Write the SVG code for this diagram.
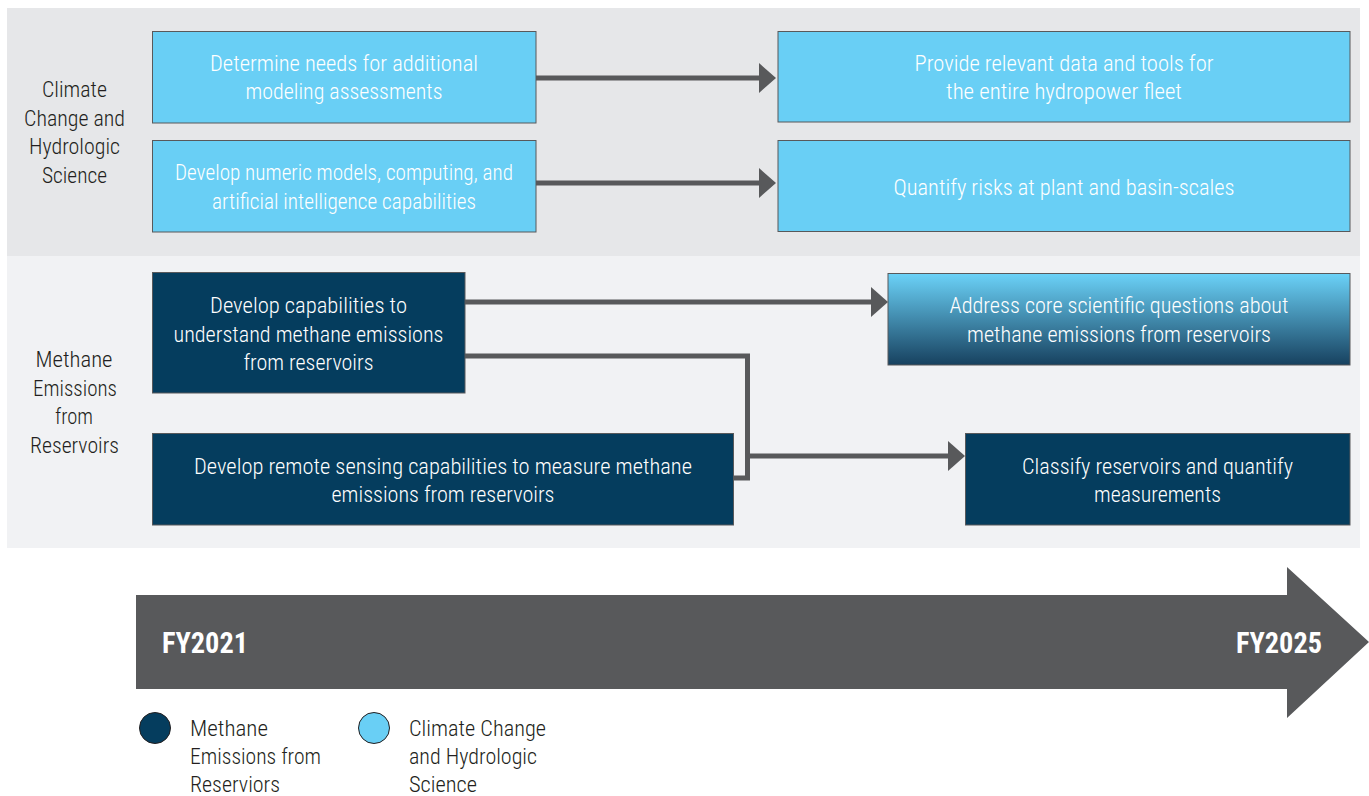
<svg xmlns="http://www.w3.org/2000/svg" width="1369" height="796" viewBox="0 0 1369 796">
<style>
.t{font-family:"Liberation Sans Narrow","Roboto Condensed","DejaVu Sans Condensed",Roboto,sans-serif;font-size:22px;font-weight:300;text-anchor:middle;}
.w{fill:#ffffff;}
.k{fill:#231f20;}
.l{text-anchor:start;}
.lb{fill:#69cff5;stroke:#58595b;stroke-width:1;}
.db{fill:#053d5e;stroke:#58595b;stroke-width:1;}
.fy{font-family:"Liberation Sans Narrow","Roboto Condensed","Liberation Sans",sans-serif;font-size:29px;font-weight:bold;fill:#ffffff;}
.cn{fill:none;stroke:#58595b;stroke-width:5;}
</style>
<defs>
<linearGradient id="g1" x1="0" y1="0" x2="0" y2="1">
<stop offset="0" stop-color="#6bd2f8"/>
<stop offset="1" stop-color="#17415f"/>
</linearGradient>
<marker id="ah" markerUnits="userSpaceOnUse" markerWidth="18" markerHeight="30" viewBox="0 0 18 30" refX="1" refY="15" orient="auto">
<path d="M0,0 L17,15 L0,30 z" fill="#58595b"/>
</marker>
</defs>
<rect width="1369" height="796" fill="#ffffff"/>
<rect id="band-climate" x="7" y="8" width="1353" height="248" fill="#e6e7e9"/>
<rect id="band-methane" x="7" y="256" width="1353" height="292" fill="#f1f2f4"/>

<g id="label-climate">
<text class="t k" x="74.5" y="97" textLength="65" lengthAdjust="spacingAndGlyphs">Climate</text>
<text class="t k" x="74.5" y="126" textLength="101" lengthAdjust="spacingAndGlyphs">Change and</text>
<text class="t k" x="74.5" y="154" textLength="91" lengthAdjust="spacingAndGlyphs">Hydrologic</text>
<text class="t k" x="74.5" y="183" textLength="65" lengthAdjust="spacingAndGlyphs">Science</text>
</g>
<g id="label-methane">
<text class="t k" x="74" y="367" textLength="77" lengthAdjust="spacingAndGlyphs">Methane</text>
<text class="t k" x="75" y="396" textLength="84" lengthAdjust="spacingAndGlyphs">Emissions</text>
<text class="t k" x="74" y="424" textLength="38" lengthAdjust="spacingAndGlyphs">from</text>
<text class="t k" x="74.5" y="453" textLength="89" lengthAdjust="spacingAndGlyphs">Reservoirs</text>
</g>

<g id="connectors">
<line class="cn" x1="536" y1="78" x2="760" y2="78" marker-end="url(#ah)"/>
<line class="cn" x1="536" y1="183" x2="760" y2="183" marker-end="url(#ah)"/>
<line class="cn" x1="465" y1="302" x2="872" y2="302" marker-end="url(#ah)"/>
<polyline class="cn" points="465,356 747.5,356 747.5,478 734,478"/>
<line class="cn" x1="747.5" y1="456" x2="949" y2="456" marker-end="url(#ah)"/>
</g>

<g id="n-determine">
<rect class="lb" x="152.5" y="31.5" width="383.5" height="91.5"/>
<text class="t w" x="344" y="71" textLength="268" lengthAdjust="spacingAndGlyphs">Determine needs for additional</text>
<text class="t w" x="344" y="99" textLength="197" lengthAdjust="spacingAndGlyphs">modeling assessments</text>
</g>
<g id="n-develop-numeric">
<rect class="lb" x="152.5" y="140.5" width="383.5" height="91.5"/>
<text class="t w" x="344" y="180" textLength="338" lengthAdjust="spacingAndGlyphs">Develop numeric models, computing, and</text>
<text class="t w" x="344" y="209" textLength="264" lengthAdjust="spacingAndGlyphs">artificial intelligence capabilities</text>
</g>
<g id="n-provide">
<rect class="lb" x="778" y="31.5" width="572" height="90.5"/>
<text class="t w" x="1064" y="71" textLength="299" lengthAdjust="spacingAndGlyphs">Provide relevant data and tools for</text>
<text class="t w" x="1064" y="99" textLength="236" lengthAdjust="spacingAndGlyphs">the entire hydropower fleet</text>
</g>
<g id="n-quantify">
<rect class="lb" x="778" y="140.5" width="572" height="91"/>
<text class="t w" x="1064" y="195" textLength="341" lengthAdjust="spacingAndGlyphs">Quantify risks at plant and basin-scales</text>
</g>
<g id="n-develop-capabilities">
<rect class="db" x="152.5" y="272.5" width="312.5" height="120.5"/>
<text class="t w" x="308.5" y="313" textLength="197" lengthAdjust="spacingAndGlyphs">Develop capabilities to</text>
<text class="t w" x="308.5" y="342" textLength="270" lengthAdjust="spacingAndGlyphs">understand methane emissions</text>
<text class="t w" x="308.5" y="370" textLength="130" lengthAdjust="spacingAndGlyphs">from reservoirs</text>
</g>
<g id="n-remote-sensing">
<rect class="db" x="152.5" y="433.5" width="581" height="91.5"/>
<text class="t w" x="443" y="474" textLength="498" lengthAdjust="spacingAndGlyphs">Develop remote sensing capabilities to measure methane</text>
<text class="t w" x="443" y="502" textLength="223" lengthAdjust="spacingAndGlyphs">emissions from reservoirs</text>
</g>
<g id="n-address">
<rect x="888" y="273.5" width="462" height="91.5" fill="url(#g1)" stroke="#58595b" stroke-width="1"/>
<text class="t w" x="1119" y="313" textLength="339" lengthAdjust="spacingAndGlyphs">Address core scientific questions about</text>
<text class="t w" x="1119" y="342" textLength="304" lengthAdjust="spacingAndGlyphs">methane emissions from reservoirs</text>
</g>
<g id="n-classify">
<rect class="db" x="965.5" y="433.5" width="384.5" height="91.5"/>
<text class="t w" x="1157.5" y="474" textLength="271" lengthAdjust="spacingAndGlyphs">Classify reservoirs and quantify</text>
<text class="t w" x="1157.5" y="502" textLength="127" lengthAdjust="spacingAndGlyphs">measurements</text>
</g>

<g id="timeline">
<polygon points="136,595 1287,595 1287,567 1369,642 1287,718 1287,689 136,689" fill="#58595b"/>
<text class="fy" x="162" y="653" textLength="86" lengthAdjust="spacingAndGlyphs">FY2021</text>
<text class="fy" x="1236" y="653" textLength="86" lengthAdjust="spacingAndGlyphs">FY2025</text>
</g>

<g id="legend-methane">
<circle cx="155" cy="728" r="15.5" fill="#053d5e" stroke="#231f20" stroke-width="1"/>
<text class="t k l" x="190" y="736" textLength="78" lengthAdjust="spacingAndGlyphs">Methane</text>
<text class="t k l" x="190" y="764" textLength="131" lengthAdjust="spacingAndGlyphs">Emissions from</text>
<text class="t k l" x="190" y="792" textLength="90" lengthAdjust="spacingAndGlyphs">Reserviors</text>
</g>
<g id="legend-climate">
<circle cx="374" cy="728" r="15.5" fill="#69cff5" stroke="#231f20" stroke-width="1"/>
<text class="t k l" x="409" y="736" textLength="137" lengthAdjust="spacingAndGlyphs">Climate Change</text>
<text class="t k l" x="409" y="764" textLength="128" lengthAdjust="spacingAndGlyphs">and Hydrologic</text>
<text class="t k l" x="409" y="792" textLength="68" lengthAdjust="spacingAndGlyphs">Science</text>
</g>
</svg>
